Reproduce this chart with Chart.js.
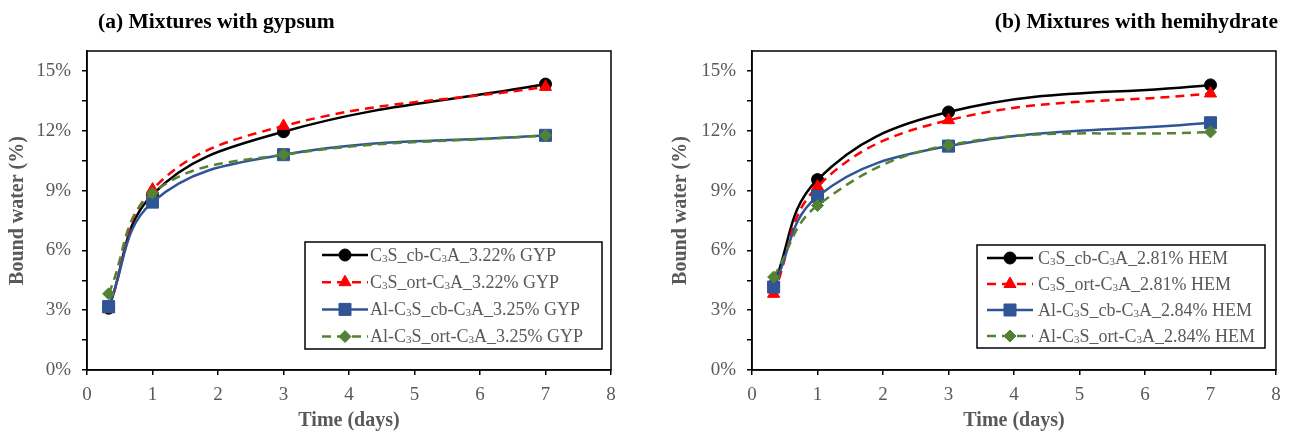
<!DOCTYPE html>
<html><head><meta charset="utf-8">
<script src="https://cdn.jsdelivr.net/npm/chart.js@4/dist/chart.umd.min.js"></script>
<style>
html,body{margin:0;padding:0;background:#fff;width:1293px;height:434px;overflow:hidden}
.box{position:absolute;top:0;height:434px}
#ba{left:0;width:646px}
#bb{left:646px;width:647px}
canvas{display:block}
</style></head><body>
<div class="box" id="ba"><canvas id="ca" width="646" height="434"></canvas></div>
<div class="box" id="bb"><canvas id="cb" width="647" height="434"></canvas></div>
<script>
// ---- data ----
const days = [0.33, 1, 3, 7];
const xTicks = [0, 1, 2, 3, 4, 5, 6, 7, 8];
const yTicksPct = [0, 3, 6, 9, 12, 15];

const titleA = '(a) Mixtures with gypsum';
const titleB = '(b) Mixtures with hemihydrate';
const xTitle = 'Time (days)';
const yTitle = 'Bound water (%)';

const labelsGyp = ['C\u2083S_cb-C\u2083A_3.22% GYP', 'C\u2083S_ort-C\u2083A_3.22% GYP', 'Al-C\u2083S_cb-C\u2083A_3.25% GYP', 'Al-C\u2083S_ort-C\u2083A_3.25% GYP'];
const gypCb    = [0.0310, 0.0880, 0.1195, 0.1434];
const gypOrt   = [0.0305, 0.0905, 0.1224, 0.1420];
const gypAlCb  = [0.0318, 0.0842, 0.1080, 0.1177];
const gypAlOrt = [0.0382, 0.0887, 0.1080, 0.1177];

const labelsHem = ['C\u2083S_cb-C\u2083A_2.81% HEM', 'C\u2083S_ort-C\u2083A_2.81% HEM', 'Al-C\u2083S_cb-C\u2083A_2.84% HEM', 'Al-C\u2083S_ort-C\u2083A_2.84% HEM'];
const hemCb    = [0.0425, 0.0955, 0.1294, 0.1430];
const hemOrt   = [0.0382, 0.0920, 0.1253, 0.1387];
const hemAlCb  = [0.0416, 0.0870, 0.1123, 0.1240];
const hemAlOrt = [0.0466, 0.0825, 0.1128, 0.1194];

// ---- styles ----
const SERIF = "'Liberation Serif','Times New Roman',serif";
const GREY = '#595959';
const styles = [
  {borderColor:'#000000', pointBackgroundColor:'#000000', pointBorderColor:'#000000', pointStyle:'circle', pointRadius:6, borderDash:[]},
  {borderColor:'#FF0000', pointBackgroundColor:'#FF0000', pointBorderColor:'#FF0000', pointStyle:'triangle', pointRadius:7, borderDash:[9,6]},
  {borderColor:'#2F5597', pointBackgroundColor:'#2F5597', pointBorderColor:'#2F5597', pointStyle:'rect', pointRadius:8.5, borderDash:[]},
  {borderColor:'#548235', pointBackgroundColor:'#548235', pointBorderColor:'#548235', pointStyle:'rectRot', pointRadius:6, borderDash:[9,6]}
];

function makeDatasets(labels, series) {
  return series.map((vals, i) => Object.assign({
    label: labels[i],
    data: vals.map((v, j) => ({x: days[j], y: v})),
    borderWidth: 2.5,
    pointBorderWidth: 1,
    tension: 0.4,
    fill: false,
    order: 4 - i
  }, styles[i]));
}

const framePlugin = {
  id: 'frame',
  afterDatasetsDraw(chart) {
    const a = chart.chartArea, ctx = chart.ctx;
    ctx.save();
    ctx.strokeStyle = '#000'; ctx.lineWidth = 1.5;
    ctx.strokeRect(a.left, a.top, a.right - a.left, a.bottom - a.top);
    ctx.restore();
  }
};

// draw a label, rendering the subscript 3 as a small lowered digit
function drawLabel(ctx, text, x, y) {
  const parts = text.split('\u2083');
  let cx = x;
  parts.forEach((p, k) => {
    ctx.font = '18px ' + SERIF;
    ctx.fillText(p, cx, y);
    cx += ctx.measureText(p).width;
    if (k < parts.length - 1) {
      ctx.font = '11px ' + SERIF;
      ctx.fillText('3', cx, y + 3);
      cx += ctx.measureText('3').width;
    }
  });
}

const boxLegend = {
  id: 'boxLegend',
  afterDraw(chart, args, o) {
    const ctx = chart.ctx;
    ctx.save();
    ctx.fillStyle = '#fff'; ctx.fillRect(o.x, o.y, o.w, o.h);
    ctx.strokeStyle = '#000'; ctx.lineWidth = 1.5; ctx.strokeRect(o.x, o.y, o.w, o.h);
    chart.data.datasets.forEach((ds, i) => {
      const cy = o.rowY + i * o.rowH;
      ctx.strokeStyle = ds.borderColor; ctx.lineWidth = ds.borderWidth;
      ctx.setLineDash(ds.borderDash || []);
      ctx.beginPath(); ctx.moveTo(o.lx1, cy); ctx.lineTo(o.lx2, cy); ctx.stroke();
      ctx.setLineDash([]);
      ctx.fillStyle = ds.pointBackgroundColor; ctx.strokeStyle = ds.pointBorderColor; ctx.lineWidth = 1;
      Chart.helpers.drawPoint(ctx, {pointStyle: ds.pointStyle, radius: ds.pointRadius, borderWidth: 1, rotation: 0}, (o.lx1 + o.lx2) / 2, cy);
      ctx.fillStyle = GREY; ctx.textBaseline = 'middle'; ctx.textAlign = 'left';
      drawLabel(ctx, ds.label, o.tx, cy + 1);
    });
    ctx.restore();
  }
};

const titlePlugin = {
  id: 'panelTitle',
  afterDraw(chart, args, o) {
    const ctx = chart.ctx;
    ctx.save();
    ctx.fillStyle = '#000'; ctx.font = 'bold 21.5px ' + SERIF;
    ctx.textBaseline = 'middle'; ctx.textAlign = o.align;
    ctx.fillText(o.text, o.x, o.y);
    ctx.restore();
  }
};

function build(canvasId, labels, series, cfg) {
  return new Chart(document.getElementById(canvasId), {
    type: 'line',
    data: {datasets: makeDatasets(labels, series)},
    plugins: [framePlugin, boxLegend, titlePlugin],
    options: {
      responsive: false,
      animation: false,
      layout: {padding: {left: 0, right: cfg.padRight, top: 51, bottom: 0}},
      plugins: {
        legend: {display: false},
        tooltip: {enabled: false},
        boxLegend: cfg.legend,
        panelTitle: cfg.title
      },
      scales: {
        x: {
          type: 'linear', min: xTicks[0], max: xTicks[xTicks.length - 1],
          afterBuildTicks: s => { s.ticks = xTicks.map(v => ({value: v})); },
          afterFit: s => { s.height = 64; },
          ticks: {color: GREY, font: {family: SERIF, size: 19}, padding: 9, maxRotation: 0,
                  callback: v => String(v)},
          grid: {drawOnChartArea: false, drawTicks: true, tickLength: 5, color: '#000', lineWidth: 1.5},
          border: {color: '#000', width: 1.5},
          title: {display: true, text: xTitle, color: GREY, font: {family: SERIF, size: 20, weight: 'bold'}, padding: {top: 0, bottom: 1}}
        },
        y: {
          type: 'linear', min: 0, max: 0.16,
          afterBuildTicks: s => {
            const t = [];
            for (let i = 0; i < yTicksPct.length; i++) {
              t.push({value: yTicksPct[i] / 100});
              if (i < yTicksPct.length - 1) t.push({value: (yTicksPct[i] + yTicksPct[i + 1]) / 200});
            }
            s.ticks = t;
          },
          afterFit: s => { s.width = cfg.axisLeft; },
          ticks: {color: GREY, font: {family: SERIF, size: 19}, padding: 11,
                  callback: v => { const p = Math.round(v * 1000) / 10; return yTicksPct.includes(p) ? p + '%' : ''; }},
          grid: {drawOnChartArea: false, drawTicks: true, tickLength: 5, color: '#000', lineWidth: 1.5},
          border: {color: '#000', width: 1.5},
          title: {display: true, text: yTitle, color: GREY, font: {family: SERIF, size: 20, weight: 'bold'}, padding: {top: cfg.yTitlePad, bottom: 0}}
        }
      }
    }
  });
}

build('ca', labelsGyp, [gypCb, gypOrt, gypAlCb, gypAlOrt], {
  padRight: 35, axisLeft: 87, yTitlePad: 6,
  legend: {x: 305, y: 242, w: 297, h: 107, rowY: 255, rowH: 27.2, lx1: 322, lx2: 368, tx: 370},
  title: {text: titleA, x: 98, y: 22, align: 'left'}
});
build('cb', labelsHem, [hemCb, hemOrt, hemAlCb, hemAlOrt], {
  padRight: 17, axisLeft: 106, yTitlePad: 23,
  legend: {x: 331, y: 245, w: 288, h: 103, rowY: 258, rowH: 26, lx1: 341, lx2: 387, tx: 392},
  title: {text: titleB, x: 632, y: 22, align: 'right'}
});
</script>
</body></html>
